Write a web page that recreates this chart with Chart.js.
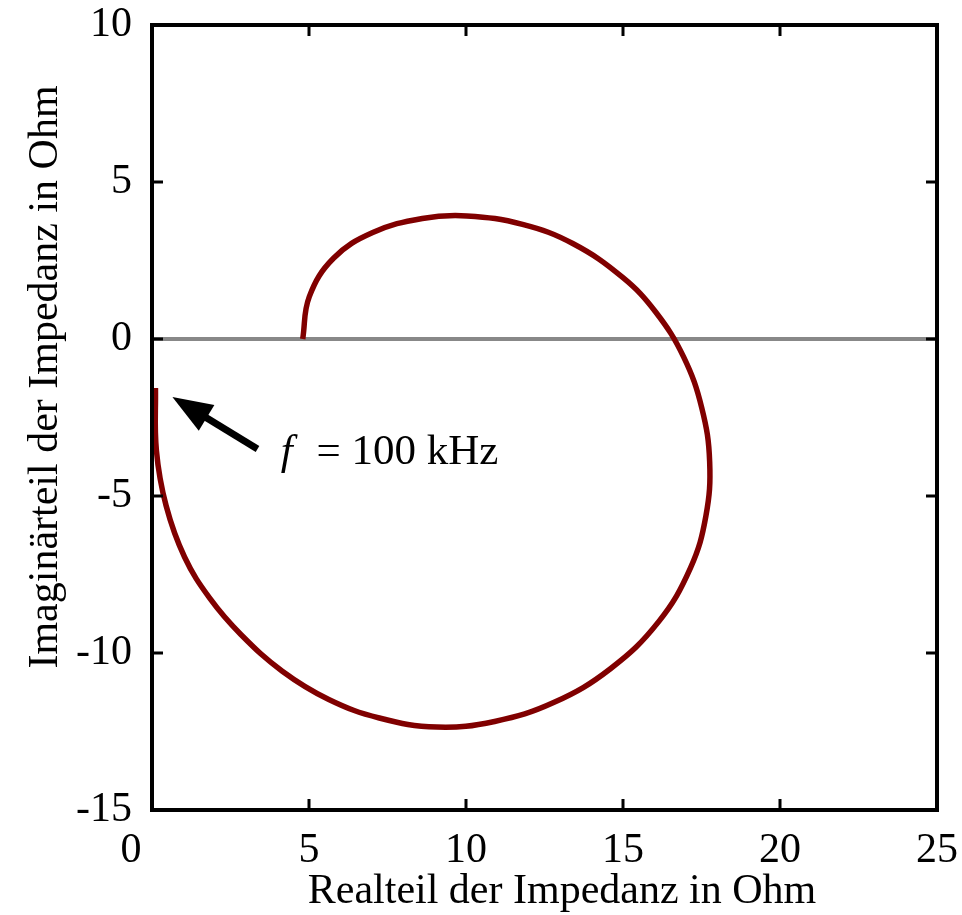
<!DOCTYPE html>
<html>
<head>
<meta charset="utf-8">
<script src="https://cdn.jsdelivr.net/npm/chart.js@4"></script>
<style>
  body { margin: 0; background: #fff; }
  canvas { display: block; }
</style>
</head>
<body>
<canvas id="nyquist" width="962" height="915"></canvas>
<script>
const realPart = [4.8, 5.01, 5.78, 7.03, 8.61, 10.03, 11.8, 13.4, 14.99, 16.04, 16.93, 17.51, 17.76, 17.64, 17.15, 16.13, 14.6, 12.79, 10.91, 9.07, 7.24, 5.63, 4.15, 2.83, 1.85, 1.04, 0.45, 0.14, 0.11];
const imagPart = [0, 1.35, 2.57, 3.39, 3.84, 3.92, 3.65, 3.04, 1.96, 0.86, -0.57, -2.2, -3.91, -5.64, -7.29, -9.01, -10.5, -11.58, -12.18, -12.36, -12.07, -11.48, -10.58, -9.41, -8.27, -6.95, -5.31, -3.55, -1.56];
const zeroLineX = [0, 25];
const zeroLineY = [0, 0];
const xTicks = [0, 5, 10, 15, 20, 25];
const yTicks = [-15, -10, -5, 0, 5, 10];
const annotationText = '= 100 kHz';

const serif = '"Liberation Serif", "Times New Roman", serif';

// frame, inward ticks, arrow, labels
const framePlugin = {
    id: 'frame',
    afterDraw(chart) {
        const ctx = chart.ctx;
        const a = chart.chartArea;
        const x = chart.scales.x;
        const y = chart.scales.y;
        ctx.save();
        ctx.strokeStyle = '#000';
        ctx.lineWidth = 3;
        xTicks.slice(1, -1).forEach(v => {
            const px = x.getPixelForValue(v);
            ctx.beginPath();
            ctx.moveTo(px, a.bottom); ctx.lineTo(px, a.bottom - 11);
            ctx.moveTo(px, a.top); ctx.lineTo(px, a.top + 11);
            ctx.stroke();
        });
        yTicks.slice(1, -1).forEach(v => {
            const py = y.getPixelForValue(v);
            ctx.beginPath();
            ctx.moveTo(a.left, py); ctx.lineTo(a.left + 11, py);
            ctx.moveTo(a.right, py); ctx.lineTo(a.right - 11, py);
            ctx.stroke();
        });
        ctx.lineWidth = 4;
        ctx.strokeRect(a.left, a.top, a.right - a.left, a.bottom - a.top);

        // arrow pointing at the 100 kHz end
        const tipX = x.getPixelForValue(0.65), tipY = y.getPixelForValue(-1.85);
        const tailX = x.getPixelForValue(3.36), tailY = y.getPixelForValue(-3.5);
        const ang = Math.atan2(tailY - tipY, tailX - tipX);
        const headLen = 40, headHalf = 15;
        const baseX = tipX + Math.cos(ang) * headLen, baseY = tipY + Math.sin(ang) * headLen;
        ctx.fillStyle = '#000';
        ctx.lineWidth = 7;
        ctx.beginPath();
        ctx.moveTo(baseX - Math.cos(ang) * 6, baseY - Math.sin(ang) * 6);
        ctx.lineTo(tailX, tailY);
        ctx.stroke();
        ctx.beginPath();
        ctx.moveTo(tipX, tipY);
        ctx.lineTo(baseX + Math.sin(ang) * headHalf, baseY - Math.cos(ang) * headHalf);
        ctx.lineTo(baseX - Math.sin(ang) * headHalf, baseY + Math.cos(ang) * headHalf);
        ctx.closePath();
        ctx.fill();

        // annotation text
        const baseLine = y.getPixelForValue(-3.99);
        ctx.textBaseline = 'alphabetic';
        ctx.textAlign = 'left';
        ctx.font = 'italic 43px ' + serif;
        ctx.fillText('f', x.getPixelForValue(4.1), baseLine);
        ctx.font = '43px ' + serif;
        ctx.fillText(annotationText, x.getPixelForValue(5.24), baseLine);

        // axis titles
        ctx.font = '42px ' + serif;
        ctx.textAlign = 'center';
        ctx.fillText('Realteil der Impedanz in Ohm', 562, 903);
        ctx.translate(57, 377);
        ctx.rotate(-Math.PI / 2);
        ctx.fillText('Imaginärteil der Impedanz in Ohm', 0, 0);
        ctx.restore();
    }
};

function initChart() {
    const ctx = document.getElementById('nyquist').getContext('2d');
    new Chart(ctx, {
        type: 'line',
        data: {
            datasets: [{
                label: 'Z',
                data: realPart.map((v, i) => ({ x: v, y: imagPart[i] })),
                borderColor: '#800000',
                borderWidth: 5.5,
                tension: 0.4,
                pointRadius: 0,
                fill: false
            }, {
                label: 'zero',
                data: zeroLineX.map((v, i) => ({ x: v, y: zeroLineY[i] })),
                borderColor: '#888888',
                borderWidth: 4,
                tension: 0,
                pointRadius: 0,
                fill: false
            }]
        },
        options: {
            responsive: false,
            animation: false,
            layout: {
                padding: { top: 25, right: 25, left: 0, bottom: 0 }
            },
            plugins: {
                legend: { display: false },
                tooltip: { enabled: false }
            },
            scales: {
                x: {
                    type: 'linear',
                    min: 0,
                    max: 25,
                    afterFit(scale) {
                        scale.height = 105;
                        scale.paddingLeft = 0;
                        scale.paddingRight = 0;
                    },
                    grid: { display: false, drawTicks: false },
                    border: { display: false },
                    afterBuildTicks(scale) { scale.ticks = xTicks.map(v => ({ value: v })); },
                    ticks: {
                        padding: 16,
                        color: '#000',
                        font: { family: serif, size: 42 },
                        maxRotation: 0,
                        callback: v => v === 0 ? '0    ' : String(v)
                    }
                },
                y: {
                    type: 'linear',
                    min: -15,
                    max: 10,
                    afterFit(scale) {
                        scale.width = 152;
                        scale.paddingTop = 0;
                        scale.paddingBottom = 0;
                    },
                    grid: { display: false, drawTicks: false },
                    border: { display: false },
                    afterBuildTicks(scale) { scale.ticks = yTicks.map(v => ({ value: v })); },
                    ticks: {
                        padding: 20,
                        color: '#000',
                        font: { family: serif, size: 42 },
                        callback: v => String(v)
                    }
                }
            }
        },
        plugins: [framePlugin]
    });
}

document.addEventListener('DOMContentLoaded', function() {
    initChart();
});
</script>
</body>
</html>
